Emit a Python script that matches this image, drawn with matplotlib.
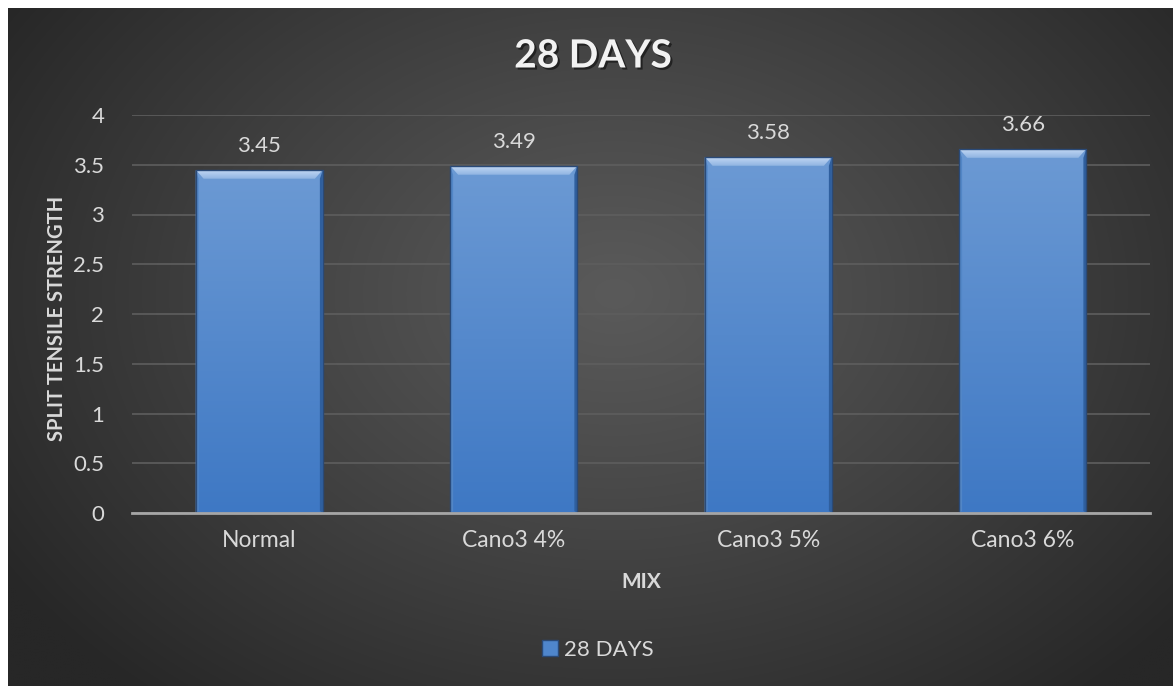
import numpy as np
import matplotlib
matplotlib.use("Agg")
import matplotlib.pyplot as plt
from matplotlib.patches import Polygon, Rectangle
from matplotlib.colors import LinearSegmentedColormap
import matplotlib.patheffects as pe

categories = ["Normal", "Cano3 4%", "Cano3 5%", "Cano3 6%"]
values = [3.45, 3.49, 3.58, 3.66]
series_name = "28 DAYS"
title = "28 DAYS"
xlabel = "MIX"
ylabel = "SPLIT TENSILE STRENGTH"
yticks = [0, 0.5, 1, 1.5, 2, 2.5, 3, 3.5, 4]

FONT = "Lato"
plt.rcParams["font.family"] = [FONT, "DejaVu Sans"]

W, H = 1173, 686
fig = plt.figure(figsize=(W / 100, H / 100), dpi=100)
fig.patch.set_facecolor("white")

# background with radial gradient
bg = fig.add_axes([8 / W, 0, 1 - 8 / W, 1 - 8 / H])
bg.set_axis_off()
ny, nx = 300, 500
yy, xx = np.mgrid[0:ny, 0:nx]
cx, cy = nx * 0.52, ny * 0.42
r = np.sqrt(((xx - cx) / (nx * 0.62)) ** 2 + ((yy - cy) / (ny * 0.78)) ** 2)
r = np.clip(r, 0, 1)
c_in, c_out = 0x5a / 255, 0x27 / 255
g = c_in + (c_out - c_in) * r ** 1.1
img = np.dstack([g, g, g])
bg.imshow(img, aspect="auto", extent=[0, 1, 0, 1], interpolation="bilinear")
bg.set_xlim(0, 1)
bg.set_ylim(0, 1)

ax = fig.add_axes([132 / W, 1 - 513 / H, (1150 - 132) / W, (513 - 115) / H])
ax.patch.set_alpha(0)
x = np.arange(len(categories))
bw = 0.5
bars = ax.bar(x, values, width=bw, color="#5b8fd4", zorder=2, label=series_name,
              edgecolor="none")
ax.set_xlim(-0.5, len(categories) - 0.5)
ax.set_ylim(0, 4)
ax.set_yticks(yticks)
ax.set_yticklabels([f"{t:g}" for t in yticks])
ax.set_xticks(x)
ax.set_xticklabels(categories)
ax.tick_params(axis="both", length=0, colors="#d9d9d9", labelsize=16)
ax.tick_params(axis="y", pad=20)
ax.tick_params(axis="x", pad=12, labelsize=16.5)
for s in ["top", "right", "left"]:
    ax.spines[s].set_visible(False)
ax.spines["bottom"].set_color("#a6a6a6")
ax.spines["bottom"].set_linewidth(2)
ax.spines["bottom"].set_zorder(4)
ax.yaxis.grid(True, color="#5e5e5e", linewidth=1.2, zorder=0)
ax.set_axisbelow(True)

# per-unit conversions for bevel
pxx = (1150 - 132) / len(categories)
pxy = (513 - 115) / 4.0
dx = 8 / pxx
dy = 9 / pxy
sx = 3 / pxx
grad = np.linspace(0, 1, 256).reshape(-1, 1)
face_cmap = LinearSegmentedColormap.from_list("face", ["#3e78c4", "#6c9ad4"])
top_cmap = LinearSegmentedColormap.from_list("top", ["#8fb3e2", "#c2d8f3"])
for b, v in zip(bars, values):
    x0 = b.get_x()
    x1 = x0 + b.get_width()
    b.set_facecolor("none")
    im = ax.imshow(grad, cmap=face_cmap, aspect="auto", origin="lower",
                   extent=[x0, x1, 0, v], zorder=2.1, interpolation="bilinear")
    im.set_clip_path(Rectangle((x0, 0), x1 - x0, v, transform=ax.transData))
    # top bevel
    tp = Polygon([(x0, v), (x1, v), (x1 - dx, v - dy), (x0 + dx, v - dy)],
                 closed=True, facecolor="none", edgecolor="none", zorder=2.3)
    ax.add_patch(tp)
    im2 = ax.imshow(grad, cmap=top_cmap, aspect="auto", origin="lower",
                    extent=[x0, x1, v - dy, v], zorder=2.3, interpolation="bilinear")
    im2.set_clip_path(tp)
    # left bevel
    ax.add_patch(Polygon([(x0, 0), (x0, v), (x0 + sx, v - dy), (x0 + sx, 0.02)],
                         closed=True, facecolor="#5286c6", edgecolor="none", zorder=2.3))
    # right bevel
    ax.add_patch(Polygon([(x1, 0), (x1, v), (x1 - sx, v - dy), (x1 - sx, 0.02)],
                         closed=True, facecolor="#2f5f9e", edgecolor="none", zorder=2.3))
    # outline
    ax.add_patch(Rectangle((x0, 0), x1 - x0, v, facecolor="none",
                           edgecolor="#2a4a78", linewidth=1.0, zorder=2.5))
    ax.text(b.get_x() + b.get_width() / 2, v + 0.14, f"{v:.2f}", ha="center",
            va="bottom", color="#d9d9d9", fontsize=16, zorder=5)

fig.text(593 / W, 1 - 56 / H, title, ha="center", va="center", color="#f2f2f2",
         fontsize=28, fontweight="bold",
         path_effects=[pe.withSimplePatchShadow(offset=(1.5, -1.5), shadow_rgbFace="black", alpha=0.5)])
fig.text(641 / W, 1 - 582 / H, xlabel, ha="center", va="center", color="#d9d9d9",
         fontsize=15, fontweight="bold")
fig.text(57 / W, 1 - 318 / H, ylabel, ha="center", va="center", color="#d9d9d9",
         fontsize=14.5, fontweight="bold", rotation=90)

# legend
leg = ax.legend(handles=[Rectangle((0, 0), 1, 1, facecolor="#4f86cc", edgecolor="#2a4a78")],
                labels=[series_name], loc="center", bbox_to_anchor=(598 / W, 1 - 650 / H),
                bbox_transform=fig.transFigure, frameon=False, fontsize=16,
                handlelength=0.7, handleheight=0.7, handletextpad=0.3, labelcolor="#d9d9d9")

fig.savefig("out.png", dpi=100, facecolor=fig.get_facecolor())
